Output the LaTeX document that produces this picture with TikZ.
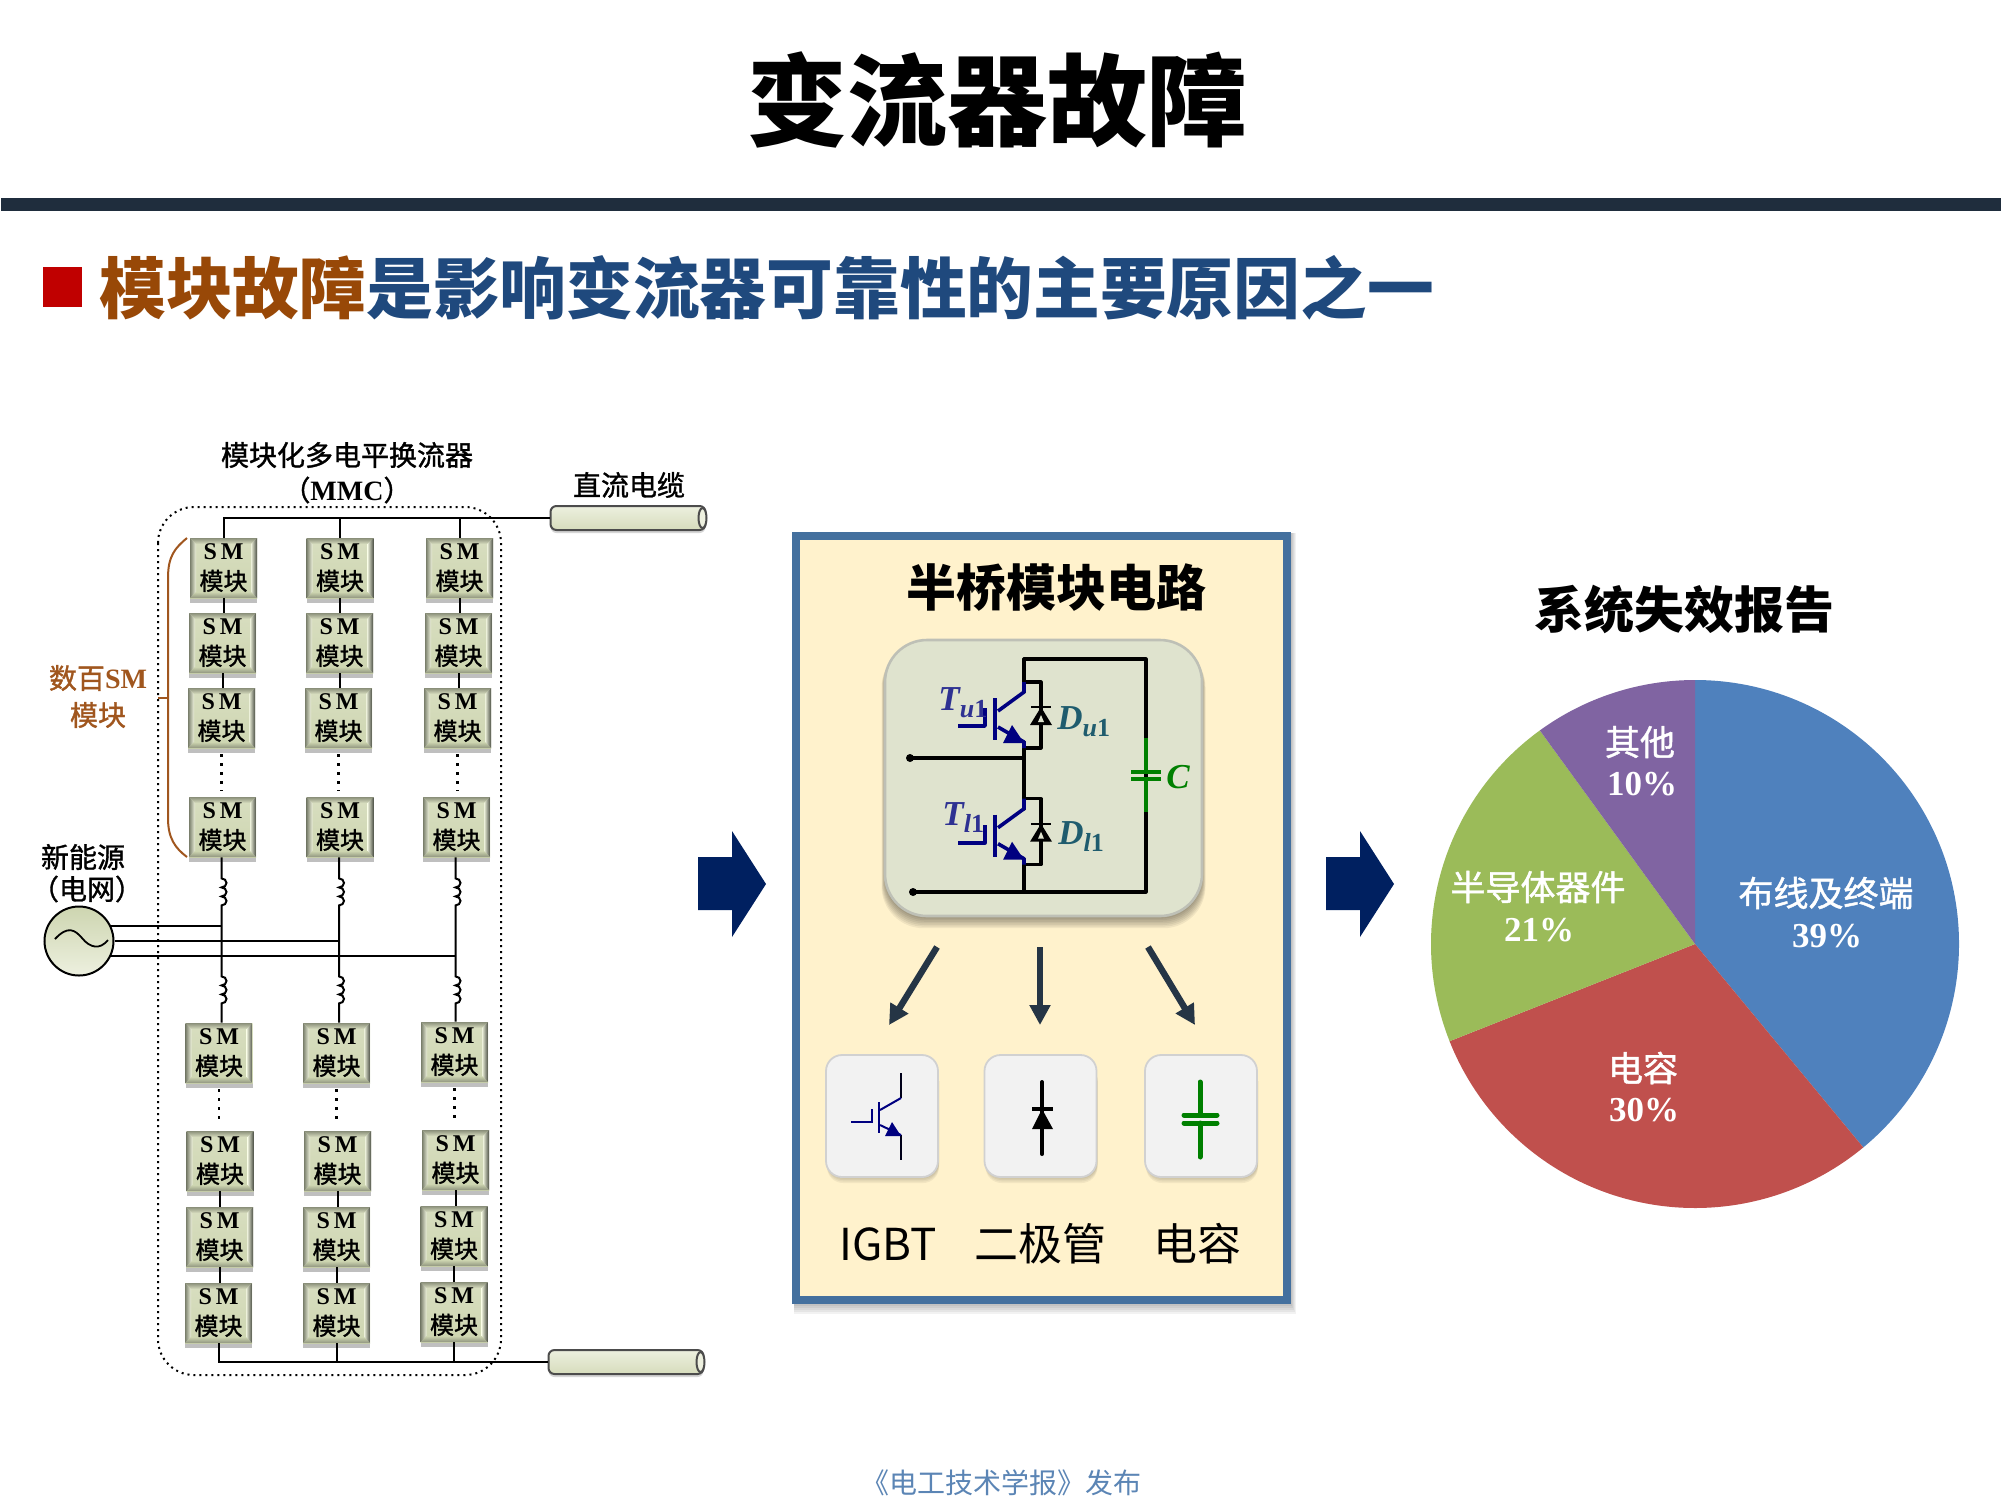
\documentclass[tikz,border=0pt]{standalone}
\usepackage{fontspec}
\setmainfont{Liberation Serif}
\newfontfamily\cjk{Noto Sans CJK SC}
\newfontfamily\cjkm[FakeBold=1.2]{Noto Sans CJK SC}
\usetikzlibrary{arrows.meta,shadows,calc}
\definecolor{barc}{HTML}{1F2D3D}
\definecolor{redb}{HTML}{C00000}
\definecolor{brownh}{HTML}{984807}
\definecolor{blueh}{HTML}{1F497D}
\definecolor{braceb}{HTML}{A0561E}
\definecolor{panelb}{HTML}{44709E}
\definecolor{panelf}{HTML}{FFF2CC}
\definecolor{cboxf}{HTML}{DFE3CE}
\definecolor{cboxb}{HTML}{BEC0B6}
\definecolor{navyb}{HTML}{002060}
\definecolor{igbt}{HTML}{000080}
\definecolor{capg}{HTML}{008000}
\definecolor{darr}{HTML}{253545}
\definecolor{tlab}{HTML}{2E3192}
\definecolor{dlab}{HTML}{1F5C6E}
\definecolor{footc}{HTML}{5B85B5}
\definecolor{modtop}{HTML}{D8DEC0}
\definecolor{modmid}{HTML}{EDF1DB}
\definecolor{modbot}{HTML}{CDD5B0}
\definecolor{bevt}{HTML}{8A8F7A}
\definecolor{bevl}{HTML}{7A7F6C}
\definecolor{bevr}{HTML}{4D5146}
\definecolor{bevb}{HTML}{8F947E}
\definecolor{cabtop}{HTML}{EDF0DF}
\definecolor{cabbot}{HTML}{D6DCBC}
\definecolor{btnf}{HTML}{F2F2F2}
\definecolor{pieblue}{HTML}{4F81BD}
\definecolor{piered}{HTML}{C0504D}
\definecolor{piegreen}{HTML}{9BBB59}
\definecolor{piepurple}{HTML}{8064A2}
\newcommand{\smtxt}{\raisebox{-1pt}{\rmfamily\bfseries S\,M}\\\raisebox{-1pt}{\cjkm 模块}}
\newcommand{\coilpath}{arc[start angle=-90,end angle=90,x radius=5,y radius=4.5] arc[start angle=-90,end angle=90,x radius=5,y radius=4.5] arc[start angle=-90,end angle=90,x radius=5,y radius=4.5]}
\tikzset{
  x=0.5pt,y=-0.5pt,
  wire/.style={line width=1pt,black},
  ckt/.style={line width=1.6pt,black,line join=round,line cap=round},
  igbtline/.style={line width=1.8pt,igbt,line join=round},
  dotv/.style={line width=1.4pt,black,dash pattern=on 1.2pt off 3.3pt},
  modbox/.style={rectangle,minimum width=33.5pt,minimum height=30pt,inner sep=0pt,align=center,
    font=\fontsize{12}{15}\selectfont,
    drop shadow={shadow xshift=0pt,shadow yshift=-2.5pt,fill=black!50,opacity=.5},
    path picture={
      \coordinate (bsw) at (path picture bounding box.south west);
      \coordinate (bnw) at (path picture bounding box.north west);
      \coordinate (bne) at (path picture bounding box.north east);
      \coordinate (bse) at (path picture bounding box.south east);
      \shade[top color=modtop,middle color=modmid,bottom color=modbot] (bsw) rectangle (bne);
      \shade[top color=bevt,bottom color=modtop] (bnw) -- (bne) -- ([shift={(-6,6)}]bne) -- ([shift={(6,6)}]bnw) -- cycle;
      \shade[left color=bevl,right color=modmid] (bsw) -- (bnw) -- ([shift={(6,6)}]bnw) -- ([shift={(6,-6)}]bsw) -- cycle;
      \shade[left color=modmid,right color=bevr] (bse) -- (bne) -- ([shift={(-6,6)}]bne) -- ([shift={(-6,-6)}]bse) -- cycle;
      \shade[top color=modbot,bottom color=bevb] (bsw) -- (bse) -- ([shift={(-6,-6)}]bse) -- ([shift={(6,-6)}]bsw) -- cycle;
    }},
  cable/.style={rectangle,rounded corners=3pt,minimum width=77.5pt,minimum height=12pt,inner sep=0pt,
    draw=black!70,line width=1pt,top color=cabtop,bottom color=cabbot,
    drop shadow={shadow xshift=0pt,shadow yshift=-1.5pt,fill=black!40,opacity=.4}},
  iconbtn/.style={rectangle,rounded corners=8pt,minimum width=56pt,minimum height=61pt,inner sep=0pt,
    draw=black!18,line width=.9pt,fill=btnf},
  pielabel/.style={text=white,inner sep=0pt,font=\fontsize{17.5}{21}\selectfont},
  lbl/.style={inner sep=0pt,align=center,font=\fontsize{14}{18}\selectfont},
  bigtitle/.style={inner sep=0pt,font=\fontsize{25}{30}\selectfont\cjk\bfseries},
  iconlabel/.style={inner sep=0pt,font=\fontsize{22}{26}\selectfont\cjk},
  bigarrow/.style={fill=navyb,draw=none},
  downarrow/.style={line width=3.2pt,darr,-{Triangle[length=10pt,width=10pt]}},
  tname/.style={inner sep=0pt,anchor=west,text=tlab,font=\fontsize{17.5}{18}\selectfont\bfseries\itshape},
  dname/.style={inner sep=0pt,anchor=west,text=dlab,font=\fontsize{17.5}{18}\selectfont\bfseries\itshape},
}
\begin{document}
\begin{tikzpicture}
\useasboundingbox (0,0) rectangle (2001,1501);
\fill[white] (0,0) rectangle (2001,1501);
% header
\node[inner sep=0pt,font=\fontsize{50}{60}\selectfont\cjk\bfseries] (title) at (997,100) {变流器故障};
\fill[barc] (1,198) rectangle (2001,211);
\fill[redb] (43,267) rectangle (82,307);
\node[inner sep=0pt,anchor=west,font=\fontsize{33.36}{40}\selectfont\cjk\bfseries] (head) at (99,288) {\textcolor{brownh}{模块故障}\textcolor{blueh}{是影响变流器可靠性的主要原因之一}};
\node[inner sep=0pt,text=footc,font=\fontsize{14}{16}\selectfont\cjk] (foot) at (1001,1483) {《电工技术学报》发布};

% MMC enclosure
\draw[line width=1pt,dash pattern=on 1pt off 2pt,rounded corners=18pt] (158,507) rectangle (501,1375);
\node[lbl] (mmc) at (347,455) {\cjkm 模块化多电平换流器};
\node[lbl] (mmc2) at (347,490) {\cjkm （{\rmfamily\bfseries MMC}）};
\node[lbl] (dclab) at (629,485) {\cjkm 直流电缆};
\node[lbl,text=braceb] (sev) at (98,678) {\cjkm 数百{\rmfamily\bfseries SM}};
\node[lbl,text=braceb] (sev2) at (98,715) {\cjkm 模块};
\node[lbl] (ne) at (83,857) {\cjkm 新能源};
\node[lbl] (ne2) at (87,889) {\cjkm （电网）};

% cables
\node[cable] (cabT) at (628,518) {};
\node[cable] (cabB) at (626,1362) {};
\draw[black!70,line width=1pt,fill=cabtop] ([xshift=-2pt]cabT.east) ellipse [x radius=4,y radius=10];
\draw[black!70,line width=1pt,fill=cabtop] ([xshift=-2pt]cabB.east) ellipse [x radius=4,y radius=10];

% modules
\foreach \n/\x/\y in {
 m11/223.5/568,m12/340/568,m13/459.5/568,
 m21/222.5/643,m22/339.5/643,m23/458.5/643,
 m31/221.5/718,m32/338.5/718,m33/457.5/718,
 m41/222.5/827,m42/340/827,m43/456.5/827,
 m51/219/1053,m52/336.5/1053,m53/454.5/1052,
 m61/220/1161,m62/337.5/1161,m63/455.5/1160,
 m71/219.5/1237,m72/336.5/1237,m73/454/1236,
 m81/218.5/1313,m82/336.5/1313,m83/454/1312}
 {\node[modbox] (\n) at (\x,\y) {\smtxt};}

% buses
\draw[wire] (m11.north) |- (cabT.west);
\draw[wire] (m12.north) -- (m12.north |- cabT.west);
\draw[wire] (m13.north) -- (m13.north |- cabT.west);
\draw[wire] (m81.south) |- (cabB.west);
\draw[wire] (m82.south) -- (m82.south |- cabB.west);
\draw[wire] (m83.south) -- (m83.south |- cabB.west);
\foreach \a/\b in {m11/m21,m21/m31,m12/m22,m22/m32,m13/m23,m23/m33,
                   m61/m71,m71/m81,m62/m72,m72/m82,m63/m73,m73/m83}
  {\draw[wire] (\a.south) -- (\a.south |- \b.north);}
\foreach \a/\b in {m31/m41,m32/m42,m33/m43,m51/m61,m52/m62,m53/m63}
  {\draw[dotv] ([yshift=-3pt]\a.south) -- ([yshift=3pt]\a.south |- \b.north);}
% phase legs with arm inductors
\foreach \a/\b in {m41/m51,m42/m52,m43/m53}
  {\draw[wire] ([xshift=-.5pt]\a.south) -- ++(0,21) \coilpath -- ++(0,71) \coilpath -- ([xshift=-.5pt]\a.south |- \b.north);}
% brace
\draw[braceb,line width=1pt] (187,538) .. controls (175,548) and (168,556) .. (168,578) -- (168,818) .. controls (168,838) and (175,848) .. (187,857);
\draw[braceb,line width=1pt] (168,698) -- (158,698);

% AC source
\coordinate (j1) at (221.5,926);
\coordinate (j2) at (339.5,941);
\coordinate (j3) at (455.5,956);
\node[circle,minimum size=34.5pt,inner sep=0pt,draw=black,line width=1pt,top color=modbot,bottom color=cabtop] (src) at (79,941) {};
\draw[wire] ([shift={(30.5,-15)}]src.center) -- (j1);
\draw[wire] (src.east) -- (j2);
\draw[wire] ([shift={(30.5,15)}]src.center) -- (j3);
\draw[line width=.9pt] (55,939) .. controls (68,925) and (75,930) .. (82,938) .. controls (90,948) and (100,950) .. (108,940);

% arrows
\coordinate (a1) at (698,884);
\coordinate (a2) at (1326,884);
\foreach \c in {a1,a2}
  {\fill[bigarrow] (\c) ++(0,-27) -- ++(34,0) -- ++(0,-26) -- ++(34,53) -- ++(-34,53) -- ++(0,-27) -- ++(-34,0) -- cycle;}

% panel
\foreach \i in {1,...,5}
  {\fill[black,opacity=.05] (794,533) rectangle (1291+\i,1304+2*\i);}
\node[rectangle,draw=panelb,line width=4pt,fill=panelf,minimum width=245.5pt,minimum height=382pt,inner sep=0pt] (panel) at (1041.5,918) {};
\node[bigtitle] (hb) at (1056,588) {半桥模块电路};
% circuit box
\foreach \i in {1,...,7}
  {\fill[black,opacity=.06,rounded corners=21pt] (885-\i/2,642+\i/2) rectangle (1202+\i/2,917+1.6*\i);}
\node[rectangle,rounded corners=21pt,draw=cboxb,line width=1.3pt,fill=cboxf,minimum width=158.5pt,minimum height=138pt,inner sep=0pt] (cbox) at (1043.5,778) {};

% circuit, wires
\coordinate (vT) at (1024,659);
\coordinate (vB) at (1024,892);
\coordinate (cR1) at (1146,659);
\coordinate (cR2) at (1146,892);
\coordinate (tm) at (910,758);
\coordinate (tb) at (913,892);
\draw[ckt] (vT) -- (cR1) -- (cR2) -- (tb);
\draw[ckt] (tm) -- (1024,758);
\fill (tm) circle [radius=4];
\fill (tb) circle [radius=4];
\draw[ckt] (vT) -- (1024,692);
\draw[ckt] (1024,742) -- (1024,809);
\draw[ckt] (1024,859) -- (vB);
\foreach \dy in {0,116.7}{
  \begin{scope}[yshift=-\dy*0.5pt]
  \draw[ckt] (1024,682) -- (1041,682) -- (1041,748) -- (1024,748);
  \fill[black] (1041,707) -- (1052,725) -- (1030,725) -- cycle;
  \draw[black,line width=1.2pt] (1031,707) -- (1051,707);
  \fill[cboxf] (1041,715) -- (1044,722) -- (1038,722) -- cycle;
  \draw[igbtline] (1024,682) -- (1024,692) -- (998,711);
  \draw[igbtline] (995,698) -- (995,740);
  \draw[igbtline] (958,726) -- (985,726) -- (985,708);
  \draw[igbtline] (998,727) -- (1024,742) -- (1024,748);
  \fill[igbt] (1024,743) -- (1003,743) -- (1012,725) -- cycle;
  \end{scope}
}
% capacitor
\draw[line width=1.7pt,capg] (1146,738) -- (1146,772);
\draw[line width=1.7pt,capg] (1146,779) -- (1146,812);
\draw[line width=1.8pt,capg] (1131,772) -- (1161,772);
\draw[line width=1.8pt,capg] (1131,779) -- (1161,779);
% circuit labels
\node[tname] (lTu) at (938,703) {T\raisebox{-3.5pt}{\fontsize{13}{13}\selectfont u\upshape 1}};
\node[tname] (lTl) at (942,818) {T\raisebox{-3.5pt}{\fontsize{13}{13}\selectfont\itshape l\upshape 1}};
\node[dname] (lDu) at (1057,722) {D\raisebox{-3.5pt}{\fontsize{13}{13}\selectfont u\upshape 1}};
\node[dname] (lDl) at (1058,837) {D\raisebox{-3.5pt}{\fontsize{13}{13}\selectfont\itshape l\upshape 1}};
\node[dname,text=capg] (lC) at (1166,777) {C};

% icon buttons
\foreach \n/\x in {ib1/882,ib2/1040.5,ib3/1201}{
  \foreach \i in {1,...,4}
    {\fill[black,opacity=.05,rounded corners=8pt] (\x-55,1065) rectangle (\x+57,1177+1.5*\i);}
  \node[iconbtn] (\n) at (\x,1116) {};
}
\coordinate (s1) at (937,947);
\coordinate (s2) at (1040,947);
\coordinate (s3) at (1148,947);
\coordinate (e1) at (889,1025);
\coordinate (e2) at (1040,1025);
\coordinate (e3) at (1195,1025);
\draw[downarrow] (s1) -- (e1);
\draw[downarrow] (s2) -- (e2);
\draw[downarrow] (s3) -- (e3);
% icon: IGBT
\draw[black!80!igbt,line width=1pt] (901,1073) -- (901,1098);
\draw[black!80!igbt,line width=1pt] (901,1135) -- (901,1160);
\draw[igbt,line width=1pt] (901,1098) -- (880,1110);
\draw[igbt,line width=1.2pt] (879,1102) -- (879,1133);
\draw[igbt,line width=1pt] (851,1122) -- (872,1122) -- (872,1109);
\draw[igbt,line width=1pt] (880,1125) -- (901,1135);
\fill[igbt] (901,1136) -- (885,1136) -- (892,1122) -- cycle;
% icon: diode
\draw[line width=2pt,line cap=round] (1042,1082) -- (1042,1154);
\draw[line width=2pt] (1032,1109) -- (1053,1109);
\fill (1042,1109) -- (1053,1129) -- (1032,1129) -- cycle;
% icon: capacitor
\draw[capg,line width=2.5pt,line cap=round] (1200,1082) -- (1200,1115);
\draw[capg,line width=2.5pt,line cap=round] (1200,1123) -- (1200,1157);
\draw[capg,line width=2.5pt,line cap=round] (1184,1115) -- (1217,1115);
\draw[capg,line width=2.5pt,line cap=round] (1184,1123) -- (1217,1123);
% icon labels
\node[iconlabel] (lb1) at (888,1244) {IGBT};
\node[iconlabel] (lb2) at (1040,1244) {二极管};
\node[iconlabel] (lb3) at (1197,1244) {电容};

% pie
\coordinate (pc) at (1695,944);
\foreach \c/\s/\e in {pieblue/-90/50.4,piered/50.4/158.4,piegreen/158.4/234,piepurple/234/270}
  {\fill[\c] (pc) -- +(\s:264) arc[start angle=\s,end angle=\e,radius=264] -- cycle;}
\node[bigtitle] (sys) at (1684,609) {系统失效报告};
\node[pielabel] (p1) at (1826,893) {\cjkm 布线及终端};
\node[pielabel] (p1b) at (1827,936) {\bfseries 39\%};
\node[pielabel] (p2) at (1643,1068) {\cjkm 电容};
\node[pielabel] (p2b) at (1644,1110) {\bfseries 30\%};
\node[pielabel] (p3) at (1538,887) {\cjkm 半导体器件};
\node[pielabel] (p3b) at (1539,930) {\bfseries 21\%};
\node[pielabel] (p4) at (1640,742) {\cjkm 其他};
\node[pielabel] (p4b) at (1642,784) {\bfseries 10\%};
\end{tikzpicture}
\end{document}
